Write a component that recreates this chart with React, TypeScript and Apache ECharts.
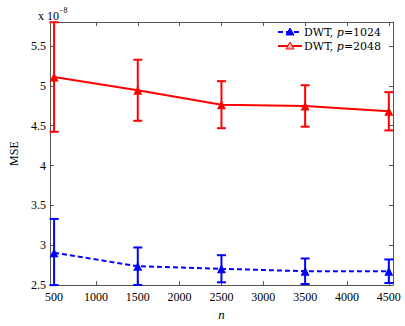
import React, { useEffect, useRef } from "react";
import * as echarts from "echarts";

const nValues = [500, 1500, 2500, 3500, 4500];
const mse1024 = [2.906, 2.737, 2.705, 2.674, 2.674];
const err1024 = [0.424, 0.235, 0.17, 0.16, 0.148];
const mse2048 = [5.11, 4.944, 4.763, 4.747, 4.68];
const err2048 = [0.687, 0.383, 0.295, 0.26, 0.24];
const xTicks = [500, 1000, 1500, 2000, 2500, 3000, 3500, 4000, 4500];
const yTicks = [2.5, 3, 3.5, 4, 4.5, 5, 5.5];
const seriesNames = ["DWT, p=1024", "DWT, p=2048"];

const FONT = "'Liberation Serif', 'DejaVu Serif', serif";
const LEGEND_FONT = "'DejaVu Serif', 'Liberation Serif', serif";
const AXIS_COLOR = "#555";

function errorSeries(means: number[], errs: number[], color: string) {
  return {
    type: "custom",
    xAxisIndex: 0,
    yAxisIndex: 0,
    data: nValues.map((x, i) => [x, means[i] - errs[i], means[i] + errs[i]]),
    encode: { x: 0, y: [1, 2] },
    z: 3,
    renderItem: (params: any, api: any) => {
      const x = api.value(0);
      const lo = api.value(1);
      const hi = api.value(2);
      const pTop = api.coord([x, hi]);
      const pBot = api.coord([x, lo]);
      const cs = params.coordSys;
      const clamp = (v: number) => Math.max(cs.y, Math.min(cs.y + cs.height, v));
      const yT = clamp(pTop[1]);
      const yB = clamp(pBot[1]);
      const px = pTop[0];
      const hw = 4.5;
      const st = { stroke: color, lineWidth: 2 };
      return {
        type: "group",
        children: [
          { type: "line", shape: { x1: px, y1: yT, x2: px, y2: yB }, style: st },
          { type: "line", shape: { x1: px - hw, y1: yT, x2: px + hw, y2: yT }, style: st },
          { type: "line", shape: { x1: px - hw, y1: yB, x2: px + hw, y2: yB }, style: st },
        ],
      };
    },
  };
}

function legendItem(y: number, color: string, dashed: boolean, name: string) {
  const parts = name.split("p=");
  return [
    {
      type: "line",
      shape: { x1: 278, y1: y, x2: 302, y2: y },
      style: { stroke: color, lineWidth: 2, lineDash: dashed ? [5, 3] : null },
    },
    {
      type: "polygon",
      shape: { points: [[290, y - 4], [294, y + 3], [286, y + 3]] },
      style: { fill: dashed ? color : "#ffb0b0", stroke: color, lineWidth: 1 },
    },
    {
      type: "text",
      x: 304,
      y: y,
      style: {
        text: `{n|${parts[0]}}{i|p}{n|=${parts[1]}}`,
        verticalAlign: "middle",
        rich: {
          n: { fontFamily: LEGEND_FONT, fontSize: 11, lineHeight: 11, fill: "#000" },
          i: { fontFamily: LEGEND_FONT, fontSize: 11, lineHeight: 11, fontStyle: "italic", fill: "#000" },
        },
      },
    },
  ];
}

export default function App() {
  const ref = useRef<HTMLDivElement>(null);
  useEffect(() => {
    if (!ref.current) return;
    const chart = echarts.init(ref.current, null, { renderer: "svg" });
    const axisLine = { show: true, lineStyle: { color: AXIS_COLOR, width: 1 } };
    const fmt = (v: number) => String(v);
    chart.setOption({
      animation: false,
      backgroundColor: "#fff",
      grid: { left: 38, right: 12, top: 22, bottom: 26 },
      xAxis: [
        {
          type: "value",
          min: 450,
          max: 4550,
          position: "bottom",
          name: "n",
          nameLocation: "middle",
          nameGap: 19,
          nameTextStyle: { fontFamily: FONT, fontSize: 13, fontStyle: "italic", color: "#000" },
          axisLine,
          axisTick: { inside: true, length: 4, customValues: xTicks, lineStyle: { color: AXIS_COLOR } },
          axisLabel: { customValues: xTicks, formatter: fmt, fontFamily: FONT, fontSize: 12, color: "#000", margin: 6 },
          splitLine: { show: false },
        },
        {
          type: "value",
          min: 450,
          max: 4550,
          position: "top",
          axisLine,
          axisTick: { inside: true, length: 4, customValues: xTicks, lineStyle: { color: AXIS_COLOR } },
          axisLabel: { show: false },
          splitLine: { show: false },
        },
      ],
      yAxis: [
        {
          type: "value",
          min: 2.5,
          max: 5.8,
          position: "left",
          name: "MSE",
          nameLocation: "middle",
          nameGap: 26,
          nameTextStyle: { fontFamily: FONT, fontSize: 12, color: "#000" },
          axisLine,
          axisTick: { inside: true, length: 4, customValues: yTicks, lineStyle: { color: AXIS_COLOR } },
          axisLabel: { customValues: yTicks, formatter: fmt, fontFamily: FONT, fontSize: 12, color: "#000", margin: 4 },
          splitLine: { show: false },
        },
        {
          type: "value",
          min: 2.5,
          max: 5.8,
          position: "right",
          axisLine,
          axisTick: { inside: true, length: 4, customValues: yTicks, lineStyle: { color: AXIS_COLOR } },
          axisLabel: { show: false },
          splitLine: { show: false },
        },
      ],
      series: [
        errorSeries(mse1024, err1024, "#0000ff"),
        errorSeries(mse2048, err2048, "#ff0000"),
        {
          name: seriesNames[0],
          type: "line",
          data: nValues.map((x, i) => [x, mse1024[i]]),
          symbol: "triangle",
          symbolSize: 9,
          itemStyle: { color: "#0000ff" },
          lineStyle: { color: "#0000ff", width: 2, type: [5, 3] },
          z: 4,
        },
        {
          name: seriesNames[1],
          type: "line",
          data: nValues.map((x, i) => [x, mse2048[i]]),
          symbol: "triangle",
          symbolSize: 9,
          itemStyle: { color: "#ff0000" },
          lineStyle: { color: "#ff0000", width: 2 },
          z: 4,
        },
      ],
      graphic: [
        {
          type: "text",
          x: 38,
          y: 6,
          style: {
            text: "{n|x 10}{s|−8}",
            rich: {
              n: { fontFamily: FONT, fontSize: 12, fill: "#000", padding: [4, 0, 0, 0] },
              s: { fontFamily: FONT, fontSize: 8, fill: "#000", verticalAlign: "top" },
            },
          },
        },
        ...legendItem(32, "#0000ff", true, seriesNames[0]),
        ...legendItem(46, "#ff0000", false, seriesNames[1]),
      ],
    });
    return () => chart.dispose();
  }, []);
  return (
    <div
      ref={ref}
      style={{ position: "fixed", left: 0, top: 0, width: 405, height: 326, background: "#fff" }}
    />
  );
}
